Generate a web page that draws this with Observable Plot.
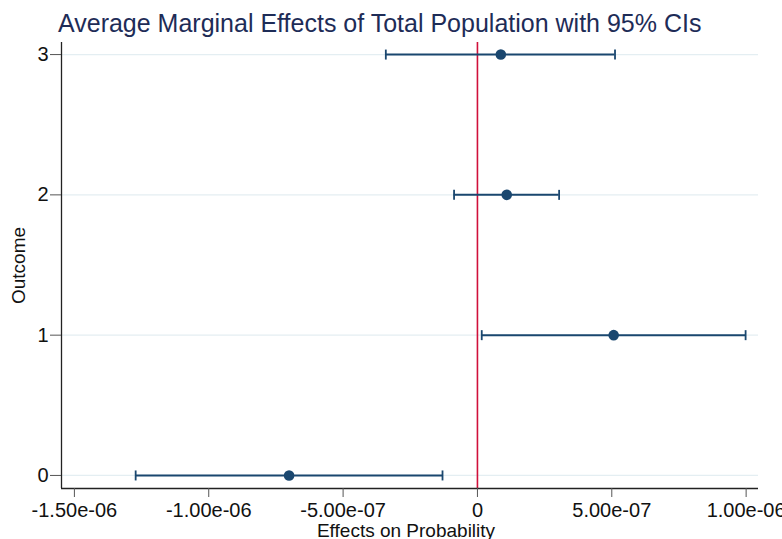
<!DOCTYPE html>
<html><head><meta charset="utf-8">
<script src="https://cdn.jsdelivr.net/npm/d3@7"></script>
<script src="https://cdn.jsdelivr.net/npm/@observablehq/plot@0.6"></script>
<style>
body{margin:0;background:#fff;overflow:hidden;font-family:"Liberation Sans",Arial,Helvetica,sans-serif;}
#title{height:36px;box-sizing:border-box;padding-top:11px;padding-left:58px;font-size:25px;line-height:25px;color:#1e2c57;white-space:nowrap;}
#chart svg{display:block;}
</style></head><body>
<div id="title">Average Marginal Effects of Total Population with 95% CIs</div>
<div id="chart"></div>
<script>
const outcomes = [0, 1, 2, 3];
const estimates = [-7.01e-7, 5.07e-7, 1.09e-7, 8.7e-8];
const lower = [-1.272e-6, 1.6e-8, -8.7e-8, -3.41e-7];
const upper = [-1.30e-7, 9.98e-7, 3.04e-7, 5.12e-7];
const xTicks = [-1.5e-6, -1e-6, -5e-7, 0, 5e-7, 1e-6];
const xDomain = [-1.548e-6, 1.046e-6];
const yDomain = [-0.093, 3.086];
const refLine = [0];
const xLabel = "Effects on Probability";
const yLabel = "Outcome";

const navy = "#1a476f";
const rows = outcomes.map((o, i) => ({outcome: o, est: estimates[i], lo: lower[i], hi: upper[i]}));

function fmt(v) {
  if (v === 0) return "0";
  return v.toExponential(2).replace(/e([+-])(\d)$/, "e$10$2");
}
const vbar = {draw(context, size) {const r = Math.sqrt(size / Math.PI); context.moveTo(0, -r); context.lineTo(0, r);}};

const chart = Plot.plot({
  width: 782,
  height: 503,
  marginTop: 6,
  marginBottom: 51,
  marginLeft: 61,
  marginRight: 24,
  style: {fontFamily: '"Liberation Sans", Arial, Helvetica, sans-serif', background: "white", color: "#222"},
  x: {domain: xDomain},
  y: {domain: yDomain},
  marks: [
    Plot.gridY(outcomes, {stroke: "#e4eef2", strokeOpacity: 1, strokeWidth: 1.2}),
    Plot.ruleX(refLine, {stroke: "#d0103a", strokeWidth: 1.6}),
    Plot.ruleY(rows, {x1: "lo", x2: "hi", y: "outcome", stroke: navy, strokeWidth: 2}),
    Plot.dot(rows, {x: "lo", y: "outcome", symbol: vbar, r: 5, stroke: navy, strokeWidth: 1.8, fill: "none"}),
    Plot.dot(rows, {x: "hi", y: "outcome", symbol: vbar, r: 5, stroke: navy, strokeWidth: 1.8, fill: "none"}),
    Plot.dot(rows, {x: "est", y: "outcome", r: 5.3, fill: navy, stroke: "none"}),
    Plot.ruleX([xDomain[0]], {stroke: "#222", strokeWidth: 1.3}),
    Plot.ruleY([yDomain[0]], {stroke: "#222", strokeWidth: 1.3}),
    Plot.axisX({ticks: xTicks, tickFormat: fmt, tickSize: 9, tickPadding: 5, fontSize: 20, label: null, stroke: "#555", fill: "#111"}),
    Plot.axisY({ticks: outcomes, tickFormat: d => String(d), tickSize: 11, tickPadding: 2, fontSize: 20, label: null, stroke: "#555", fill: "#111"}),
    Plot.text([xLabel], {frameAnchor: "bottom", dy: 42, dx: -4, lineAnchor: "middle", fontSize: 19, fill: "#111"}),
    Plot.text([yLabel], {frameAnchor: "left", textAnchor: "middle", dx: -43, rotate: -90, lineAnchor: "middle", fontSize: 19, fill: "#111"})
  ]
});
document.getElementById("chart").appendChild(chart);
</script>
</body></html>
